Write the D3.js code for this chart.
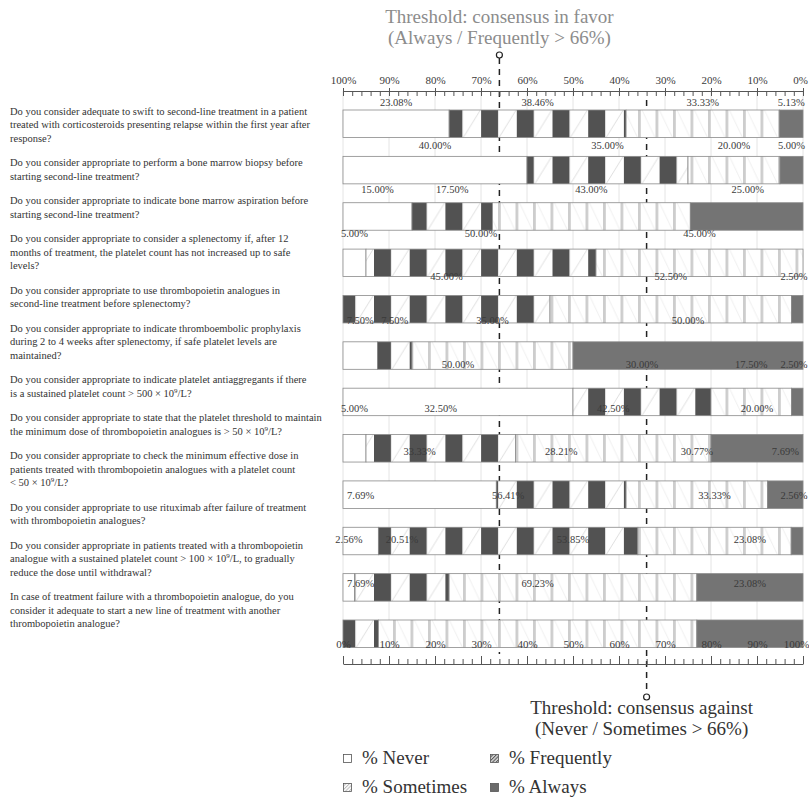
<!DOCTYPE html>
<html>
<head>
<meta charset="utf-8">
<script src="https://cdn.jsdelivr.net/npm/d3@7"></script>
<style>
  body { margin: 0; background: #fff; }
  svg { display: block; font-family: "Liberation Serif", "Times New Roman", serif; }
</style>
</head>
<body>
<div id="chart"></div>
<script>
// questions, one line break per "|", "^9" is a superscript 9
const questions = [
  "Do you consider adequate to swift to second-line treatment in a patient|treated with corticosteroids presenting relapse within the first year after|response?",
  "Do you consider appropriate to perform a bone marrow biopsy before|starting second-line treatment?",
  "Do you consider appropriate to indicate bone marrow aspiration before|starting second-line treatment?",
  "Do you consider appropriate to consider a splenectomy if, after 12|months of treatment, the platelet count has not increased up to safe|levels?",
  "Do you consider appropriate to use thrombopoietin analogues in|second-line treatment before splenectomy?",
  "Do you consider appropriate to indicate thromboembolic prophylaxis|during 2 to 4 weeks after splenectomy, if safe platelet levels are|maintained?",
  "Do you consider appropriate to indicate platelet antiaggregants if there|is a sustained platelet count > 500 × 10^9/L?",
  "Do you consider appropriate to state that the platelet threshold to maintain|the minimum dose of thrombopoietin analogues is > 50 × 10^9/L?",
  "Do you consider appropriate to check the minimum effective dose in|patients treated with thrombopoietin analogues with a platelet count|< 50 × 10^9/L?",
  "Do you consider appropriate to use rituximab after failure of treatment|with thrombopoietin analogues?",
  "Do you consider appropriate in patients treated with a thrombopoietin|analogue with a sustained platelet count > 100 × 10^9/L, to gradually|reduce the dose until withdrawal?",
  "In case of treatment failure with a thrombopoietin analogue, do you|consider it adequate to start a new line of treatment with another|thrombopoietin analogue?"
];

const never      = [23.08, 40.00, 15.00,  5.00,  0.00,  7.50, 50.00,  5.00, 33.33,  7.69,  2.56,  0.00];
const frequently = [38.46, 35.00, 17.50, 50.00, 45.00,  7.50, 30.00, 32.50, 28.21, 56.41, 20.51,  7.69];
const sometimes  = [33.33, 20.00, 43.00, 45.00, 52.50, 35.00, 17.50, 42.50, 30.77, 33.33, 53.85, 69.23];
const always     = [ 5.13,  5.00, 25.00,  0.00,  2.50, 50.00,  2.50, 20.00,  7.69,  2.56, 23.08, 23.08];

const seriesKeys = ["never", "frequently", "sometimes", "always"];
const legendLabels = ["% Never", "% Frequently", "% Sometimes", "% Always"];
const tickPercents = d3.range(0, 101, 10);
const minorPercents = d3.range(0, 101, 2);
const threshold = 66;
const topTitle = ["Threshold: consensus in favor", "(Always / Frequently > 66%)"];
const bottomTitle = ["Threshold: consensus against", "(Never / Sometimes > 66%)"];

const W = 809, H = 798;
const svg = d3.select("#chart").append("svg").attr("width", W).attr("height", H);

const x = d3.scaleLinear().domain([0, 100]).range([343, 803]).clamp(true);
const xTop = d3.scaleLinear().domain([100, 0]).range([343, 803]);
const yBar = d3.scaleBand().domain(d3.range(questions.length))
  .range([110, 647.5]).paddingInner(0.407).paddingOuter(0).align(0);
const yLab = d3.scalePoint().domain(d3.range(questions.length)).range([105.5, 586.5]);
const bh = yBar.bandwidth();

const rows = questions.map((q, i) => ({
  q, i, never: never[i], frequently: frequently[i], sometimes: sometimes[i], always: always[i]
}));
const stacked = d3.stack().keys(seriesKeys)(rows);

// fills
const defs = svg.append("defs");
const pf = defs.append("pattern").attr("id", "pat-freq")
  .attr("patternUnits", "userSpaceOnUse").attr("x", 17).attr("width", 35.7).attr("height", bh);
pf.append("rect").attr("width", 35.7).attr("height", bh).attr("fill", "#fff");
pf.append("rect").attr("width", 17).attr("height", bh).attr("fill", "#525252");
pf.append("line").attr("x1", 18).attr("y1", bh).attr("x2", 35).attr("y2", 0)
  .attr("stroke", "#c8c8c8").attr("stroke-width", 0.6);

const ps = defs.append("pattern").attr("id", "pat-some")
  .attr("patternUnits", "userSpaceOnUse").attr("x", 8).attr("width", 17.5).attr("height", bh);
ps.append("rect").attr("width", 17.5).attr("height", bh).attr("fill", "#fff");
ps.append("rect").attr("width", 2.8).attr("height", bh).attr("fill", "#cdcdcd");
ps.append("line").attr("x1", 4).attr("y1", 0).attr("x2", 17).attr("y2", bh)
  .attr("stroke", "#e3e3e3").attr("stroke-width", 0.6);

const hatch = (id, bg, fg) => {
  const p = defs.append("pattern").attr("id", id).attr("patternUnits", "userSpaceOnUse")
    .attr("width", 2.5).attr("height", 2.5).attr("patternTransform", "rotate(45)");
  p.append("rect").attr("width", 2.5).attr("height", 2.5).attr("fill", bg);
  p.append("rect").attr("width", 1).attr("height", 2.5).attr("fill", fg);
};
hatch("hatch-dark", "#d8d8d8", "#555");
hatch("hatch-light", "#fff", "#bbb");

const FILL = {
  never: "#fff",
  frequently: "url(#pat-freq)",
  sometimes: "url(#pat-some)",
  always: "#747474"
};
const LEGEND_FILL = {
  never: "#fff",
  frequently: "url(#hatch-dark)",
  sometimes: "url(#hatch-light)",
  always: "#6a6a6a"
};

// grid
svg.append("g").selectAll("line").data(tickPercents).join("line")
  .attr("x1", d => x(d)).attr("x2", d => x(d))
  .attr("y1", 91).attr("y2", 648)
  .attr("stroke", "#e4e4e4").attr("stroke-width", 1);

// threshold lines (behind the bars)
const thr = svg.append("g").attr("stroke", "#222").attr("stroke-width", 1.5).attr("stroke-dasharray", "6,5");
thr.append("line").attr("x1", xTop(threshold)).attr("x2", xTop(threshold)).attr("y1", 58).attr("y2", 654);
thr.append("line").attr("x1", x(threshold)).attr("x2", x(threshold)).attr("y1", 100).attr("y2", 694);

// bars
const barG = svg.append("g");
stacked.forEach(layer => {
  barG.selectAll(null).data(layer.filter(d => d[1] - d[0] > 0)).join("g")
    .attr("transform", d => `translate(0,${yBar(d.data.i)})`)
    .append("rect")
    .attr("x", d => x(d[0]))
    .attr("width", d => x(d[1]) - x(d[0]))
    .attr("height", bh)
    .attr("fill", FILL[layer.key])
    .attr("stroke", "#8a8a8a").attr("stroke-width", 0.8);
});

// value labels
const labG = svg.append("g").attr("font-size", 10.5).attr("fill", "#3a3a3a").attr("text-anchor", "middle");
stacked.forEach(layer => {
  labG.selectAll(null).data(layer.filter(d => d[1] - d[0] > 0)).join("text")
    .attr("x", d => Math.min(x((d[0] + d[1]) / 2), 794))
    .attr("y", d => yLab(d.data.i))
    .text(d => d.data[layer.key].toFixed(2) + "%");
});

// axes
const pct = d => d + "%";
const topAx = svg.append("g").attr("class", "axis");
topAx.append("g").attr("transform", "translate(0,91)")
  .call(d3.axisBottom(xTop).tickValues(minorPercents).tickSize(5).tickSizeOuter(0).tickFormat(""));
topAx.append("g").attr("transform", "translate(0,88)")
  .call(d3.axisBottom(xTop).tickValues(tickPercents).tickSize(8).tickFormat(""))
  .call(g => g.select(".domain").remove());
topAx.append("g").attr("transform", "translate(0,88)")
  .call(d3.axisTop(xTop).tickValues(tickPercents).tickSize(0).tickPadding(4).tickFormat(pct))
  .call(g => g.select(".domain").remove())
  .call(g => g.selectAll(".tick text").filter(d => d === 0).attr("dx", -3));

const botAx = svg.append("g").attr("class", "axis");
botAx.append("g").attr("transform", "translate(0,664)")
  .call(d3.axisTop(x).tickValues(minorPercents).tickSize(5).tickSizeOuter(0).tickFormat(""));
botAx.append("g").attr("transform", "translate(0,664)")
  .call(d3.axisTop(x).tickValues(tickPercents).tickSize(8).tickFormat(""))
  .call(g => g.select(".domain").remove());
botAx.append("g").attr("transform", "translate(0,652)")
  .call(d3.axisTop(x).tickValues(tickPercents).tickSize(0).tickPadding(4).tickFormat(pct))
  .call(g => g.select(".domain").remove())
  .call(g => g.selectAll(".tick text").filter(d => d === 100).attr("dx", -7));

svg.selectAll(".axis text").attr("font-family", "Liberation Serif, serif").attr("font-size", 11).attr("fill", "#3a3a3a");
svg.selectAll(".axis line, .axis path").attr("stroke", "#555");

// threshold markers
svg.append("circle").attr("cx", xTop(threshold)).attr("cy", 55).attr("r", 3)
  .attr("fill", "#fff").attr("stroke", "#222").attr("stroke-width", 1.2);
svg.append("circle").attr("cx", x(threshold)).attr("cy", 697).attr("r", 3)
  .attr("fill", "#fff").attr("stroke", "#222").attr("stroke-width", 1.2);

svg.append("g").attr("font-size", 19).attr("fill", "#8c8c8c").attr("text-anchor", "middle")
  .selectAll("text").data(topTitle).join("text")
  .attr("x", xTop(threshold)).attr("y", (d, i) => 23 + i * 21).text(d => d);
svg.append("g").attr("font-size", 19).attr("fill", "#333").attr("text-anchor", "middle")
  .selectAll("text").data(bottomTitle).join("text")
  .attr("x", x(threshold) - 5).attr("y", (d, i) => 714 + i * 21).text(d => d);

// questions, laid out as a flowing list
const qG = svg.append("g").attr("font-size", 10.5).attr("fill", "#333");
let yCur = 114.5;
questions.forEach(q => {
  q.split("|").forEach(line => {
    const t = qG.append("text").attr("x", 10).attr("y", yCur);
    const parts = line.split("^9");
    t.append("tspan").text(parts[0]);
    parts.slice(1).forEach(p => {
      t.append("tspan").attr("font-size", 7).attr("dy", -4).text("9");
      t.append("tspan").attr("dy", 4).text(p);
    });
    yCur += 13.5;
  });
  yCur += 11;
});

// legend
const legCols = [343, 490], legRows = [764, 793];
const leg = svg.append("g").selectAll("g").data(seriesKeys).join("g")
  .attr("transform", (d, i) => `translate(${legCols[i % 2]},${legRows[Math.floor(i / 2)]})`);
leg.append("rect").attr("x", 0.5).attr("y", -9.5).attr("width", 8).attr("height", 8)
  .attr("fill", d => LEGEND_FILL[d]).attr("stroke", "#555").attr("stroke-width", 0.8);
leg.append("text").attr("x", 19).attr("font-size", 19).attr("fill", "#333")
  .text((d, i) => legendLabels[i]);
</script>
</body>
</html>
